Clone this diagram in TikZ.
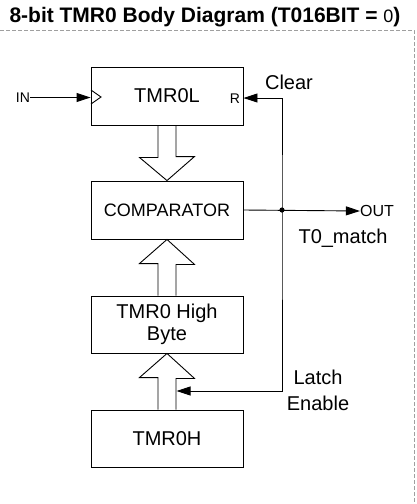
\documentclass[tikz,border=0pt]{standalone}
\usepackage{fontspec}
\setmainfont{Liberation Sans}
\usepackage{tikz}
\usetikzlibrary{arrows.meta}

\tikzset{
  blk/.style={draw, line width=0.9pt, minimum width=152pt, minimum height=57pt, inner sep=0pt, font=\fontsize{20}{22}\selectfont, align=center},
  lbl/.style={inner sep=0pt, font=\fontsize{20}{22}\selectfont, align=center},
  sml/.style={inner sep=0pt, font=\fontsize{14}{16}\selectfont},
  sig/.style={line width=0.9pt},
  tip/.style={-{Triangle[length=14pt,width=9pt]}},
  hollow/.style={draw, line width=0.9pt, line join=miter},
  frame/.style={draw=gray!75, line width=0.9pt, dash pattern=on 3.5pt off 2.5pt}
}

\begin{document}
\begin{tikzpicture}[x=1pt, y=-1pt]
  \useasboundingbox (0,0) rectangle (416,504);

  \node[inner sep=0pt, font=\fontsize{21}{24}\selectfont\bfseries] (title) at (205,17)
    {8-bit TMR0 Body Diagram (T016BIT = {\mdseries\fontsize{18}{20}\selectfont 0})};
  \draw[frame] (0,30) -- (414,30) -- (414,504);

  \node[blk, minimum height=58pt] (tmrl) at (167,96) {TMR0L};
  \node[blk, minimum height=58pt, font=\fontsize{18}{20}\selectfont] (cmp) at (167,210) {COMPARATOR};
  \node[blk] (hb) at (167,324.5) {TMR0 High\\Byte};
  \node[blk] (tmrh) at (167,438.5) {TMR0H};

  \node[sml] (in) at (23,97.5) {IN};
  \node[sml] (rst) at (235,98.5) {R};
  \node[lbl] (clr) at (289,82) {Clear};
  \node[inner sep=0pt, font=\fontsize{16}{18}\selectfont] (out) at (377,211) {OUT};
  \node[lbl] (match) at (343,238) {T0\_match};
  \node[lbl] (latch) at (318,377) {Latch};
  \node[lbl] (enbl) at (318,403) {Enable};

  \coordinate (jn) at (282,210);
  \coordinate (le) at (176.5,391);

  % clock input
  \draw[sig, tip] (in.east) -- (tmrl.west |- in);
  \draw[sig] (91,90) -- (101,97) -- (91,104);

  % compare output, clear and latch enable
  \draw[sig, tip] (cmp.east) -- (out.west);
  \draw[sig, {Triangle[length=14pt,width=9pt]}-{Triangle[length=14pt,width=9pt]}]
    (tmrl.east |- 0,98) -| (jn) |- (le);
  \fill (jn) circle (2.6pt);

  % data paths
  \draw[hollow] ([xshift=-9pt]tmrl.south) -- ++(0,32) -- ++(-18.5,0) -- (cmp.north)
    -- ++(27.5,-24) -- ++(-18.5,0) -- ([xshift=9pt]tmrl.south);
  \draw[hollow] ([xshift=-9pt]hb.north) -- ++(0,-32) -- ++(-18.5,0) -- (cmp.south)
    -- ++(27.5,25) -- ++(-18.5,0) -- ([xshift=9pt]hb.north);
  \draw[hollow] ([xshift=-9pt]tmrh.north) -- ++(0,-32) -- ++(-18.5,0) -- (hb.south)
    -- ++(27.5,25) -- ++(-18.5,0) -- ([xshift=9pt]tmrh.north);
\end{tikzpicture}
\end{document}
